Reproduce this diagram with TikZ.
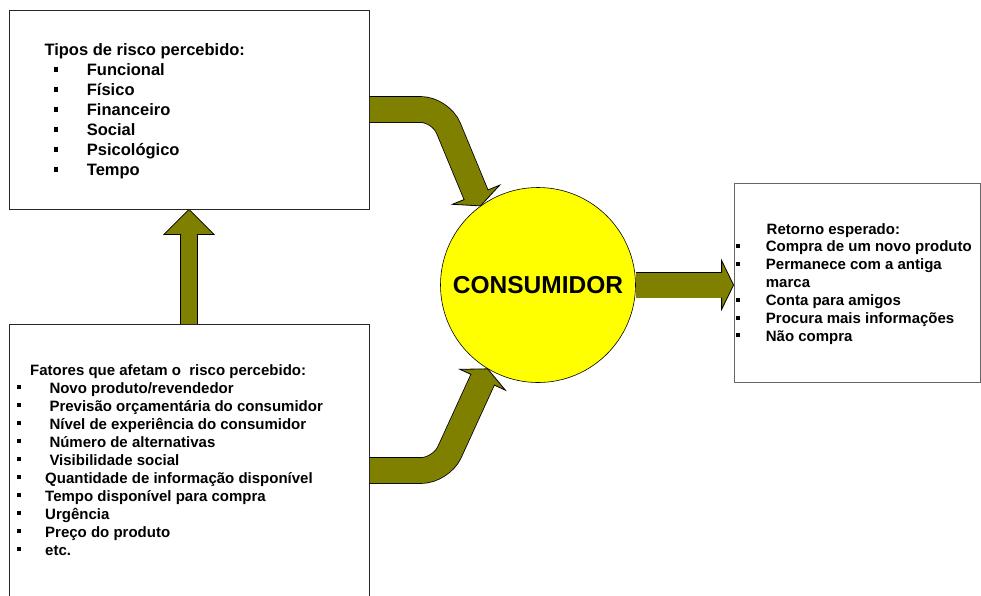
\documentclass[tikz,border=0pt]{standalone}
\usepackage{fontspec}
\setmainfont{Liberation Sans}
\usetikzlibrary{calc,backgrounds}

\definecolor{arrowolive}{HTML}{808000}
\definecolor{ballyellow}{HTML}{FFFF00}

% Head of a block arrow: tip, direction, length, half width, shaft half width
\newcommand{\blockhead}[5]{%
  \begin{scope}[shift={(#1)},rotate=#2]
    \fill[arrowolive] (0,0) -- (-#3,#4) -- (-#3,-#4) -- cycle;
    \draw[headline] (-#3,#5) -- (-#3,#4) -- (0,0) -- (-#3,-#4) -- (-#3,-#5);
  \end{scope}}

% Square list bullet set to the left of the item text
\newcommand{\bul}[3]{\llap{\rule[#1]{#2}{#2}\hspace{#3}}}

\begin{document}
\begin{tikzpicture}[x=1pt,y=-1pt,line join=miter,
  box/.style={draw=black!85,line width=0.8pt,inner sep=0pt,minimum width=360pt},
  ball/.style={circle,draw=black,line width=0.6pt,fill=ballyellow,minimum size=195pt,
    inner sep=0pt,font=\fontsize{24.5}{28}\selectfont\bfseries},
  shaft/.style={draw=black,line width=0.8pt,double=arrowolive,rounded corners=20pt},
  headline/.style={draw=black,line width=0.8pt},
  toptxt/.style={anchor=base west,inner sep=0pt,font=\fontsize{16.5}{20}\selectfont\bfseries},
  lowtxt/.style={anchor=base west,inner sep=0pt,font=\fontsize{15}{18}\selectfont\bfseries}]

\useasboundingbox (0,0) rectangle (981,595);

% boxes and the consumer
\node[box,minimum height=199pt] (tl) at (189,109.5) {};
\node[box,minimum height=293pt] (bl) at (189,470.5) {};
\node[box,draw=black!60,minimum width=246.5pt,minimum height=199pt] (rb) at (857.25,282.5) {};
\node[ball] (circ) at (538,285) {CONSUMIDOR};

% block arrows, kept under the nodes
\begin{scope}[on background layer]
  % risk types -> consumer
  \coordinate (ttip) at (circ.126.5);
  \coordinate (tbend) at (440.7,109.5);
  \draw[shaft,double distance=25pt] (tl.east) -- (tbend) -- ($(ttip)+(-4.1,-10.2)$);
  \blockhead{ttip}{-68}{12}{25.5}{12.5}
  % factors -> consumer
  \coordinate (btip) at (circ.239);
  \coordinate (bbend) at (441.1,470.5);
  \draw[shaft,double distance=25pt] (bl.east) -- (bbend) -- ($(btip)+(-4.6,10)$);
  \blockhead{btip}{65.4}{12}{25}{12.5}
  % factors -> risk types
  \draw[shaft,double distance=16pt] (bl.north) -- ($(tl.south)+(0,24)$);
  \blockhead{tl.south}{90}{25}{25}{8}
  % consumer -> expected return
  \coordinate (rtip) at (rb.west |- circ.east);
  \draw[shaft,double distance=25pt] (circ.east) -- ($(rtip)+(-11,0)$);
  \blockhead{rtip}{0}{12}{24.5}{12.5}
\end{scope}

% risk types
\node[toptxt] (tl-h) at (44.3,55) {Tipos de risco percebido:};
\foreach \t [count=\i] in {Funcional,Físico,Financeiro,Social,Psicológico,Tempo}
  \node[toptxt,name=tl-\i] at (86.7,{55+20*\i}) {\bul{3.1pt}{4.5pt}{28.5pt}\t};

% factors
\node[lowtxt] (bl-h) at (30,375) {Fatores que afetam o\ \ risco percebido:};
\foreach \t [count=\i] in {{Novo produto/revendedor},{Previsão orçamentária do consumidor},
    {Nível de experiência do consumidor},{Número de alternativas},{Visibilidade social}}
  \node[lowtxt,name=bl-\i] at (49.3,{375+18*\i}) {\bul{4pt}{4pt}{28.3pt}\t};
\foreach \t [count=\i from 6] in {{Quantidade de informação disponível},
    {Tempo disponível para compra},{Urgência},{Preço do produto},{etc.}}
  \node[lowtxt,name=bl-\i] at (45,{375+18*\i}) {\bul{4pt}{4pt}{24pt}\t};

% expected return
\node[lowtxt] (rb-h) at (766.5,234) {Retorno esperado:};
\node[lowtxt] (rb-1) at (765.7,251.9) {\bul{4pt}{4pt}{25.7pt}Compra de um novo produto};
\node[lowtxt] (rb-2) at (765.7,269.8) {\bul{4pt}{4pt}{25.7pt}Permanece com a antiga};
\node[lowtxt] (rb-3) at (765.7,287.7) {marca};
\node[lowtxt] (rb-4) at (765.7,305.6) {\bul{4pt}{4pt}{25.7pt}Conta para amigos};
\node[lowtxt] (rb-5) at (765.7,323.5) {\bul{4pt}{4pt}{25.7pt}Procura mais informações};
\node[lowtxt] (rb-6) at (765.7,341.4) {\bul{4pt}{4pt}{25.7pt}Não compra};

\end{tikzpicture}
\end{document}
